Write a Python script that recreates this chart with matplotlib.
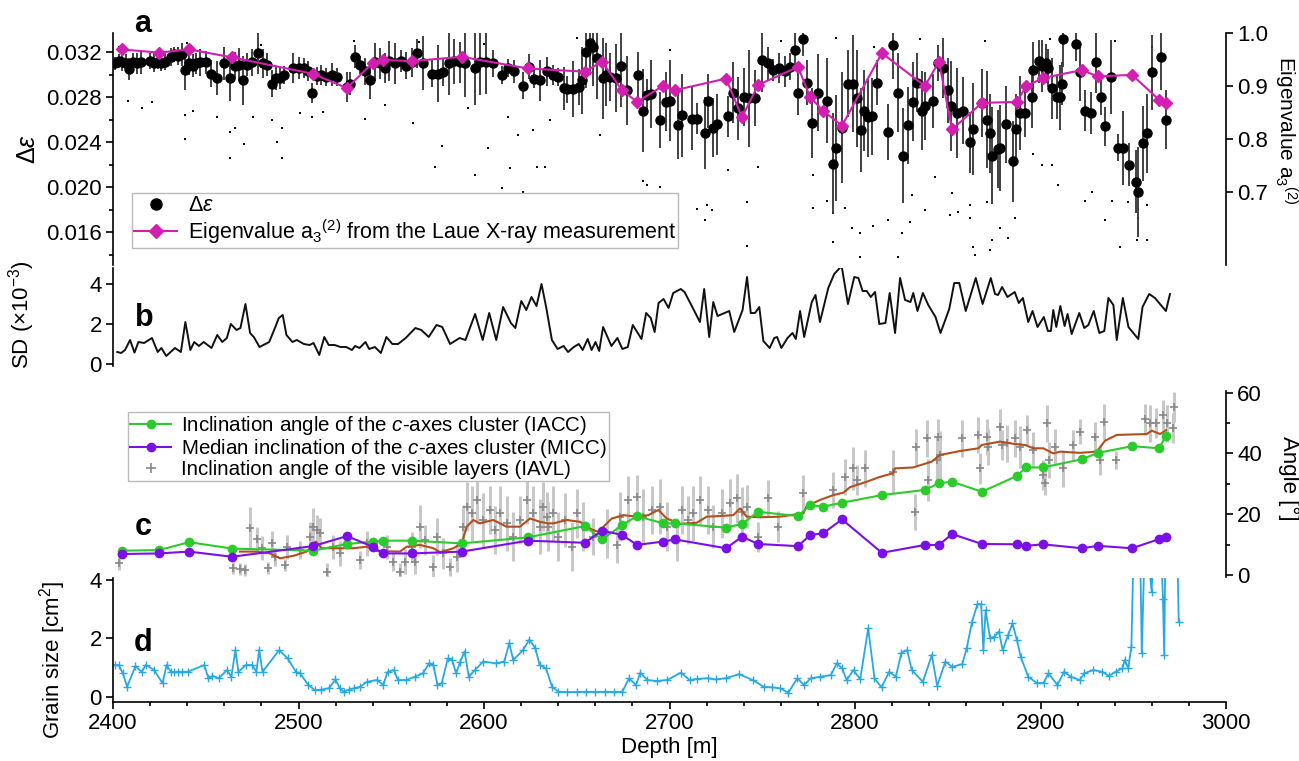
import numpy as np
import matplotlib.pyplot as plt
from matplotlib.ticker import MultipleLocator, FixedLocator, FormatStrFormatter
from matplotlib.lines import Line2D

plt.rcParams['font.family'] = ['Liberation Sans', 'DejaVu Sans']
plt.rcParams['mathtext.fontset'] = 'custom'
plt.rcParams['mathtext.rm'] = 'Liberation Sans'
plt.rcParams['mathtext.it'] = 'Liberation Sans:italic'
plt.rcParams['mathtext.bf'] = 'Liberation Sans:bold'
plt.rcParams['font.size'] = 16
plt.rcParams['axes.linewidth'] = 1.2

# ---- panel a: delta epsilon (mean per bag, with SD bars)
de_depth = [2401, 2403, 2405, 2407, 2408.5, 2411, 2413, 2415, 2420, 2422, 2424, 2426, 2428, 2431, 2433,
            2435, 2437, 2439, 2441, 2443, 2445, 2447, 2450, 2453, 2456, 2460, 2463, 2466, 2468, 2470,
            2472, 2475, 2478, 2481, 2483, 2485.7, 2488, 2490, 2492, 2497, 2500, 2503, 2505, 2507.3, 2510,
            2512, 2515, 2518, 2521, 2526, 2528, 2530.4, 2533, 2536, 2538.5, 2541, 2544, 2546.6, 2549, 2552,
            2555, 2558, 2561, 2564, 2567, 2572, 2575, 2578, 2581, 2584, 2587, 2590, 2595, 2598, 2601,
            2605, 2609.7, 2613, 2616, 2621, 2624, 2627, 2630, 2634, 2637, 2640, 2643, 2645, 2648, 2651,
            2653, 2655, 2657, 2659, 2661, 2664, 2666, 2668, 2671, 2674, 2677, 2683, 2685.7, 2688, 2690,
            2695, 2698, 2700, 2704.5, 2707, 2712, 2715, 2719, 2720.7, 2723.4, 2725.6, 2731.5, 2734, 2737, 2740,
            2743, 2746, 2749.8, 2753, 2756, 2759, 2762, 2765, 2767.6, 2769.2, 2771.9, 2774, 2777, 2780, 2785,
            2788, 2790, 2793, 2796, 2799, 2801, 2803, 2805, 2807, 2809, 2812, 2818, 2820.4, 2823, 2826,
            2828.5, 2831, 2833.4, 2836, 2838, 2842, 2844.7, 2847.4, 2850, 2852, 2855, 2858, 2862, 2863.5, 2868.4,
            2871, 2873, 2874, 2877, 2878, 2881.3, 2885, 2886.7, 2889, 2891.6, 2895.3, 2896, 2899, 2901, 2903,
            2904, 2906, 2909, 2910.4, 2911.5, 2912.1, 2919.1, 2921.2, 2923.9, 2927.2, 2929.9, 2932.5, 2934.7, 2937.9, 2941.7,
            2944.4, 2947.6, 2951.4, 2952.5, 2955.2, 2957.3, 2960, 2964.9, 2967.6]
de_val = [0.0310, 0.0312, 0.0311, 0.0310, 0.0305, 0.0311, 0.0310, 0.0311, 0.0312, 0.0310, 0.0311, 0.0310, 0.0311, 0.0316, 0.0318,
          0.0317, 0.0318, 0.0304, 0.0310, 0.0308, 0.0310, 0.0311, 0.0311, 0.0301, 0.0297, 0.0310, 0.0297, 0.0308, 0.0309, 0.0295,
          0.0309, 0.0311, 0.0319, 0.0310, 0.0309, 0.0292, 0.0297, 0.0297, 0.0300, 0.0306, 0.0306, 0.0306, 0.0303, 0.0284, 0.0299,
          0.0300, 0.0298, 0.0300, 0.0298, 0.0289, 0.0292, 0.0316, 0.0309, 0.0303, 0.0295, 0.0311, 0.0310, 0.0306, 0.0312, 0.0310,
          0.0312, 0.0308, 0.0311, 0.0319, 0.0310, 0.0301, 0.0301, 0.0302, 0.0310, 0.0312, 0.0311, 0.0310, 0.0306, 0.0311, 0.0311,
          0.0310, 0.0300, 0.0306, 0.0303, 0.0290, 0.0307, 0.0296, 0.0295, 0.0303, 0.0300, 0.0298, 0.0288, 0.0287, 0.0287, 0.0289,
          0.0295, 0.0320, 0.0328, 0.0325, 0.0315, 0.0297, 0.0300, 0.0298, 0.0297, 0.0308, 0.0286, 0.0300, 0.0268, 0.0282, 0.0283,
          0.0260, 0.0276, 0.0277, 0.0255, 0.0264, 0.0261, 0.0261, 0.0248, 0.0277, 0.0253, 0.0256, 0.0263, 0.0284, 0.0270, 0.0280,
          0.0279, 0.0279, 0.0313, 0.0310, 0.0304, 0.0306, 0.0303, 0.0307, 0.0322, 0.0284, 0.0332, 0.0293, 0.0257, 0.0284, 0.0277,
          0.0221, 0.0235, 0.0253, 0.0292, 0.0292, 0.0279, 0.0251, 0.0268, 0.0262, 0.0263, 0.0293, 0.0249, 0.0326, 0.0284, 0.0228,
          0.0255, 0.0276, 0.0293, 0.0268, 0.0272, 0.0277, 0.0310, 0.0306, 0.0286, 0.0272, 0.0266, 0.0268, 0.0240, 0.0252, 0.0275,
          0.0260, 0.0248, 0.0228, 0.0234, 0.0235, 0.0256, 0.0223, 0.0252, 0.0266, 0.0266, 0.0280, 0.0304, 0.0312, 0.0308, 0.0310,
          0.0306, 0.0288, 0.0280, 0.0280, 0.0292, 0.0332, 0.0327, 0.0302, 0.0268, 0.0266, 0.0311, 0.0280, 0.0254, 0.0298, 0.0235,
          0.0235, 0.0220, 0.0205, 0.0196, 0.0239, 0.0248, 0.0302, 0.0316, 0.0260]
de_err = [0.6, 0.6, 0.8, 0.8, 1.0, 0.8, 0.9, 1.0, 0.7, 0.8, 0.6, 0.7, 0.7, 0.8, 0.7,
          0.8, 1.0, 1.8, 1.0, 1.0, 0.9, 1.2, 1.0, 1.2, 1.5, 1.5, 2.0, 1.2, 1.5, 2.2,
          1.0, 1.2, 1.8, 1.3, 1.0, 1.2, 1.1, 1.0, 0.8, 1.3, 1.0, 0.9, 0.9, 0.9, 0.8,
          0.9, 0.8, 1.0, 0.8, 1.3, 1.0, 1.0, 0.8, 1.2, 1.7, 1.7, 1.4, 1.3, 1.8, 1.8,
          1.0, 1.2, 1.3, 1.3, 2.4, 1.2, 2.5, 1.2, 2.8, 2.0, 1.8, 3.0, 3.3, 2.9, 2.8,
          1.2, 0.8, 0.8, 1.0, 1.2, 1.1, 0.8, 1.8, 1.3, 0.9, 0.8, 1.9, 1.2, 2.5, 1.6,
          3.0, 3.2, 2.8, 3.5, 3.7, 3.6, 2.8, 2.1, 3.0, 3.7, 3.1, 2.0, 3.7, 1.4, 3.0,
          2.5, 2.6, 3.6, 3.0, 3.7, 2.8, 1.4, 3.2, 2.4, 2.6, 2.7, 1.8, 2.7, 2.8, 2.6,
          4.3, 2.5, 2.8, 1.5, 1.0, 1.3, 1.4, 1.2, 1.5, 2.0, 1.5, 2.0, 3.1, 3.4, 3.8,
          4.5, 4.7, 4.9, 3.0, 4.3, 4.3, 3.7, 3.6, 3.5, 3.4, 2.0, 2.5, 3.0, 3.5, 4.2,
          3.4, 3.5, 2.6, 3.5, 3.0, 2.4, 1.6, 2.7, 2.9, 4.0, 4.0, 3.0, 2.7, 4.1, 3.0,
          4.3, 3.5, 4.3, 3.5, 3.8, 3.4, 3.6, 3.1, 3.3, 2.1, 2.7, 2.5, 1.9, 2.3, 1.7,
          1.7, 2.7, 1.9, 2.9, 1.9, 2.5, 1.5, 2.5, 1.8, 1.9, 2.7, 1.6, 1.7, 3.3, 1.2,
          3.3, 1.9, 2.8, 4.0, 3.3, 3.5, 3.3, 3.0, 2.6]

# single measurements lying outside the bars
pt_depth = [2408, 2415.6, 2421, 2438.8, 2438.8, 2443, 2456, 2463, 2463, 2466, 2470.6, 2475.5, 2485.7, 2488.4,
            2491, 2491, 2500.8, 2507.3, 2513, 2535.8, 2546.6, 2561.7, 2573.6, 2577.3, 2591.3, 2595.1, 2602.1,
            2609.7, 2613, 2614, 2618.4, 2621, 2626.4, 2628.6, 2633, 2635.7, 2662.5, 2685.7, 2688, 2695, 2715,
            2719, 2720, 2723, 2731.5, 2741.7, 2741.7, 2747.7, 2777.3, 2777.3, 2785, 2788, 2788, 2794.6, 2798.4,
            2802.6, 2802.6, 2809.7, 2817.7, 2823, 2825.3, 2829.6, 2830.7, 2837.7, 2843, 2851.2, 2852.2, 2855.5,
            2862, 2862, 2863.5, 2864.6, 2871, 2872.7, 2873.8, 2878, 2882.4, 2886, 2895.9, 2900.8, 2906, 2909.4,
            2924, 2927.7, 2934.7, 2938.5, 2943, 2947, 2952, 2952.5, 2957.3, 2957.3,
            2403, 2440, 2480, 2530, 2565, 2600, 2650, 2700, 2760, 2790, 2810, 2835, 2870, 2905, 2940, 2960]
pt_val = [0.0277, 0.0270, 0.0276, 0.0264, 0.0243, 0.0268, 0.0262, 0.0249, 0.0226, 0.0253, 0.0238, 0.0262, 0.0260, 0.0240,
          0.0226, 0.0253, 0.0266, 0.0262, 0.0267, 0.0261, 0.0273, 0.0257, 0.0218, 0.0237, 0.0270, 0.0211, 0.0235,
          0.0199, 0.0262, 0.0217, 0.0246, 0.0196, 0.0251, 0.0218, 0.0218, 0.0260, 0.0246, 0.0206, 0.0202, 0.0200, 0.0181,
          0.0171, 0.0184, 0.0180, 0.0215, 0.0187, 0.0148, 0.0218, 0.0211, 0.0182, 0.0188, 0.0177, 0.0151, 0.0182, 0.0164,
          0.0159, 0.0138, 0.0166, 0.0171, 0.0138, 0.0159, 0.0169, 0.0193, 0.0180, 0.0209, 0.0175, 0.0195, 0.0178,
          0.0184, 0.0173, 0.0147, 0.0140, 0.0187, 0.0144, 0.0153, 0.0164, 0.0155, 0.0173, 0.0230, 0.0220, 0.0220, 0.0202,
          0.0188, 0.0196, 0.0171, 0.0188, 0.0147, 0.0187, 0.0153, 0.0173, 0.0184, 0.0153,
          0.0325, 0.0328, 0.0326, 0.0330, 0.0329, 0.0327, 0.0333, 0.0322, 0.0330, 0.0333, 0.0325, 0.0332, 0.0330, 0.0332, 0.0330, 0.0325]

# Laue X-ray depths: eigenvalue, IACC, MICC
laue_depth = [2404.7, 2424.8, 2441.0, 2464.2, 2507.8, 2526.1, 2540.1, 2545.5, 2561.2, 2588.1, 2623.7, 2654.4, 2663.6,
              2674.4, 2682.5, 2696.5, 2703.0, 2730.5, 2739.1, 2747.8, 2769.3, 2775.8, 2782.8, 2793.0, 2814.5, 2837.7,
              2845.3, 2852.3, 2868.4, 2887.3, 2892.1, 2901.3, 2922.3, 2931.0, 2949.3, 2963.9, 2967.6]
eigen = [0.969, 0.963, 0.969, 0.954, 0.923, 0.896, 0.944, 0.949, 0.947, 0.955, 0.933, 0.927, 0.946,
         0.892, 0.870, 0.900, 0.892, 0.914, 0.841, 0.902, 0.936, 0.879, 0.853, 0.825, 0.962, 0.900,
         0.946, 0.818, 0.868, 0.870, 0.899, 0.915, 0.930, 0.918, 0.921, 0.874, 0.868]
iacc = [8.0, 8.2, 10.8, 8.7, 8.0, 10.2, 11.0, 11.3, 11.3, 10.4, 12.4, 16.1, 11.7,
        16.4, 19.4, 17.0, 17.0, 15.6, 16.8, 20.8, 19.4, 23.0, 22.5, 23.8, 26.3, 28.0,
        30.2, 30.7, 27.4, 32.6, 35.4, 35.4, 38.1, 40.2, 42.4, 41.7, 45.7]
micc = [6.9, 7.1, 7.7, 6.0, 9.5, 12.8, 9.3, 7.1, 7.1, 7.7, 11.3, 10.6, 14.6,
        13.2, 9.9, 11.0, 11.7, 8.8, 12.6, 10.2, 9.5, 13.2, 13.7, 18.3, 7.3, 9.9,
        9.9, 13.5, 10.2, 10.1, 9.6, 10.1, 8.8, 9.6, 8.8, 11.8, 12.6]

# ---- panel b: SD (x10^-3)
sd_depth = [2402.3, 2404.4, 2406.5, 2409.2, 2411.6, 2413.7, 2416.8, 2421.0, 2424.1, 2426.1, 2428.7, 2433.4, 2436.6,
            2439.0, 2441.7, 2443.8, 2446.3, 2448.9, 2453.1, 2456.2, 2458.9, 2461.4, 2463.5, 2466.6, 2468.7, 2471.4,
            2473.9, 2475.9, 2479.0, 2484.2, 2487.3, 2489.4, 2491.5, 2493.5, 2496.7, 2499.1, 2502.9, 2506.0, 2508.1,
            2511.2, 2513.9, 2516.3, 2519.5, 2522.6, 2525.7, 2528.8, 2530.5, 2532.9, 2536.1, 2538.1, 2541.2, 2544.4,
            2547.4, 2550.6, 2553.7, 2557.8, 2563.0, 2566.2, 2570.2, 2574.4, 2577.5, 2581.7, 2586.9, 2590.0, 2595.2,
            2599.3, 2602.8, 2606.6, 2610.3, 2614.5, 2616.9, 2620.1, 2622.8, 2625.6, 2628.3, 2631.0, 2633.5, 2636.6,
            2639.7, 2642.9, 2645.3, 2648.4, 2651.1, 2653.2, 2655.9, 2658.0, 2660.1, 2662.1, 2664.2, 2668.7, 2671.9,
            2674.6, 2677.5, 2680.2, 2684.9, 2687.4, 2689.9, 2692.0, 2694.1, 2696.8, 2699.5, 2702.0, 2706.1, 2708.1,
            2712.3, 2716.4, 2718.7, 2721.4, 2723.6, 2725.9, 2732.2, 2734.9, 2739.4, 2741.8, 2743.8, 2746.1, 2748.4,
            2750.6, 2754.0, 2756.5, 2758.0, 2760.3, 2763.6, 2766.3, 2768.1, 2770.4, 2772.6, 2776.7, 2778.7, 2781.1,
            2785.6, 2788.8, 2792.8, 2796.2, 2799.6, 2801.8, 2804.1, 2806.3, 2808.5, 2810.8, 2813.1, 2816.4, 2818.7,
            2821.6, 2824.3, 2827.0, 2829.9, 2831.4, 2833.7, 2836.6, 2839.5, 2843.4, 2846.1, 2850.8, 2853.5, 2856.2,
            2859.7, 2865.1, 2868.8, 2873.2, 2875.5, 2877.1, 2879.3, 2882.2, 2886.1, 2888.3, 2890.5, 2893.4, 2895.7,
            2898.4, 2901.8, 2904.0, 2905.6, 2906.9, 2908.5, 2910.7, 2913.0, 2914.6, 2916.8, 2920.9, 2923.6, 2925.8,
            2928.7, 2931.7, 2934.4, 2936.6, 2939.3, 2941.1, 2944.4, 2947.4, 2952.7, 2955.0, 2958.6, 2961.7, 2967.6,
            2969.8]
sd_val = [0.6, 0.55, 0.7, 1.2, 0.57, 1.1, 1.05, 1.3, 0.6, 0.8, 0.4, 0.8, 0.6,
          2.1, 0.7, 1.1, 0.9, 1.1, 0.8, 1.45, 1.1, 1.3, 2.0, 1.7, 1.8, 3.0,
          1.55, 1.35, 0.85, 1.1, 1.8, 2.3, 2.45, 1.45, 1.1, 1.2, 1.0, 0.95, 1.05,
          0.45, 1.35, 0.95, 0.95, 0.85, 0.85, 0.7, 0.9, 0.8, 1.1, 0.75, 0.85, 0.55,
          1.35, 1.0, 1.0, 1.3, 1.8, 1.7, 1.35, 1.95, 1.85, 1.0, 1.3, 1.2, 2.5,
          1.2, 2.55, 1.2, 2.85, 2.05, 1.8, 3.15, 2.7, 3.35, 2.9, 4.0, 2.85, 1.2,
          0.75, 0.9, 0.6, 0.85, 1.0, 0.7, 1.25, 0.7, 1.1, 0.65, 1.85, 0.9, 1.3,
          0.75, 0.85, 1.95, 1.25, 2.55, 2.3, 1.6, 3.05, 3.25, 2.8, 3.55, 3.75, 3.6,
          2.85, 2.1, 3.75, 1.35, 3.1, 2.4, 2.65, 1.6, 2.7, 4.35, 2.55, 2.55, 2.85,
          1.15, 0.8, 1.3, 1.35, 0.8, 1.3, 1.55, 1.25, 2.65, 1.35, 3.1, 3.45, 2.1,
          3.8, 4.5, 4.9, 3.0, 4.35, 4.3, 3.65, 3.65, 3.35, 3.6, 2.0, 2.05, 3.55,
          1.55, 4.3, 3.2, 3.1, 3.55, 2.65, 3.55, 2.95, 2.35, 1.55, 2.75, 4.05, 4.05,
          2.65, 4.3, 3.0, 4.3, 3.5, 3.45, 3.85, 3.35, 3.6, 3.05, 3.3, 2.1, 2.65,
          1.85, 2.35, 1.65, 1.65, 2.7, 1.85, 2.9, 1.9, 2.5, 1.5, 2.55, 1.8, 1.95,
          2.65, 1.55, 1.65, 3.3, 2.95, 1.2, 3.3, 1.85, 1.25, 2.85, 3.5, 3.3, 2.65,
          3.5]

# ---- panel c: inclination of visible layers (IAVL) and running mean
iavl_depth = [2403.4, 2464.9, 2468.5, 2471.2, 2473.9, 2477.5, 2480.2, 2483.7, 2485.5, 2487.3, 2492.7, 2493.6, 2500.8,
              2506.2, 2508.0, 2509.8, 2511.6, 2515.2, 2518.8, 2522.4, 2533.2, 2536.8, 2547.5, 2551.1, 2554.7, 2557.4,
              2561.0, 2562.8, 2565.5, 2568.2, 2572.7, 2574.5, 2578.1, 2581.7, 2585.3, 2588.8, 2590.7, 2593.4, 2596.1,
              2599.6, 2603.2, 2605.9, 2608.6, 2612.2, 2615.8, 2619.4, 2623.0, 2626.6, 2630.2, 2632.0, 2633.8, 2634.7,
              2637.4, 2640.1, 2643.7, 2647.3, 2650.0, 2653.6, 2659.0, 2666.2, 2671.6, 2673.3, 2677.8, 2682.3, 2685.9,
              2690.4, 2694.9, 2698.5, 2703.9, 2706.6, 2710.2, 2712.9, 2716.5, 2720.9, 2723.6, 2728.2, 2732.6, 2736.2,
              2738.9, 2741.6, 2747.9, 2753.3, 2758.7, 2772.1, 2788.2, 2794.6, 2799.1, 2800.9, 2805.4, 2820.6, 2832.3,
              2833.0, 2838.7, 2839.5, 2844.0, 2845.0, 2845.8, 2857.5, 2866.5, 2867.4, 2871.0, 2871.9, 2878.2, 2879.0,
              2881.8, 2886.3, 2889.0, 2892.6, 2896.2, 2901.5, 2902.4, 2903.3, 2904.7, 2907.8, 2912.3, 2917.7, 2921.3,
              2929.4, 2932.1, 2934.3, 2940.7, 2956.3, 2959.0, 2962.3, 2966.2, 2968.0, 2971.3, 2972.0]
iavl = [3.8, 2.2, 1.9, 1.6, 15.4, 11.7, 8.8, 2.2, 10.4, 6.0, 3.3, 9.3, 8.2,
        12.6, 15.9, 14.8, 13.7, 1.0, 9.3, 7.1, 4.9, 10.4, 9.3, 4.4, 1.1, 4.4,
        9.3, 4.4, 15.9, 11.5, 2.7, 12.6, 7.1, 2.7, 6.0, 15.9, 22.5, 20.3, 24.7,
        18.1, 21.4, 14.8, 20.3, 17.0, 12.6, 18.1, 24.7, 20.3, 15.9, 22.5, 19.2, 15.9,
        20.3, 12.6, 18.1, 9.3, 20.3, 15.9, 12.6, 13.7, 9.9, 19.2, 24.7, 25.8, 19.2,
        21.4, 22.5, 15.9, 11.5, 21.4, 18.1, 20.3, 24.7, 21.4, 15.9, 20.3, 23.6, 25.2,
        20.8, 22.5, 12.6, 25.2, 15.9, 26.9, 28.0, 32.3, 35.1, 31.3, 35.1, 34.0, 20.8,
        42.2, 45.0, 31.3, 37.8, 45.5, 39.5, 45.0, 46.1, 35.1, 45.5, 42.2, 48.8, 42.8,
        43.3, 45.0, 42.2, 47.7, 41.1, 32.9, 30.2, 49.9, 37.8, 42.2, 35.1, 42.8, 47.2,
        45.5, 37.8, 50.4, 37.8, 51.2, 49.9, 50.1, 52.6, 49.9, 48.3, 55.2]
iavl_err = [2, 2, 2, 2, 7, 4, 4, 2, 4, 3, 2, 4, 3,
            5, 6, 5, 5, 3, 4, 4, 3, 4, 4, 3, 3, 4,
            5, 4, 7, 5, 4, 6, 5, 3, 5, 7, 8, 9, 8,
            9, 8, 8, 9, 9, 8, 8, 8, 9, 9, 8, 8, 8,
            9, 8, 9, 8, 8, 8, 6, 8, 6, 8, 8, 7, 9,
            8, 9, 8, 7, 8, 8, 9, 8, 8, 7, 8, 8, 8,
            8, 7, 5, 6, 5, 6, 6, 6, 7, 5, 6, 7, 6,
            6, 6, 7, 8, 6, 8, 6, 6, 5, 6, 6, 6, 5,
            6, 6, 7, 5, 6, 5, 4, 6, 6, 6, 6, 5, 4,
            5, 5, 6, 3, 5, 6, 5, 5, 6, 5, 5]

mean_depth = [2468.5, 2477.5, 2484.6, 2490.0, 2497.2, 2504.4, 2509.4, 2512.5, 2518.8, 2529.5, 2536.8, 2542.2, 2554.7,
              2558.3, 2565.5, 2572.7, 2576.3, 2583.5, 2588.0, 2590.7, 2594.2, 2597.8, 2605.0, 2612.2, 2619.4, 2624.8,
              2630.2, 2634.7, 2637.4, 2644.6, 2651.8, 2658.1, 2661.6, 2668.9, 2675.1, 2682.3, 2688.6, 2694.0, 2698.5,
              2705.7, 2714.7, 2720.1, 2727.2, 2734.4, 2738.0, 2741.6, 2748.8, 2759.6, 2772.2, 2774.0, 2781.2, 2788.3,
              2793.7, 2797.3, 2806.3, 2813.5, 2820.6, 2821.6, 2831.4, 2841.3, 2845.8, 2856.6, 2866.5, 2868.3, 2878.2,
              2886.3, 2891.7, 2896.1, 2901.5, 2906.9, 2910.5, 2921.3, 2930.3, 2934.8, 2941.1, 2957.3, 2960.0, 2964.5,
              2967.7]
mean_angle = [7.7, 7.7, 7.1, 5.5, 6.3, 7.7, 11.0, 8.8, 8.8, 8.8, 9.3, 7.9, 7.7,
              9.3, 9.9, 8.8, 7.5, 8.8, 10.4, 15.9, 18.1, 17.0, 18.1, 15.9, 15.9, 18.6,
              17.5, 17.0, 17.0, 18.1, 17.5, 15.0, 14.2, 18.6, 19.7, 19.2, 19.7, 21.4, 18.6,
              16.8, 17.2, 19.2, 19.4, 19.7, 21.9, 19.2, 19.0, 19.2, 20.3, 22.7, 24.7, 26.3,
              27.1, 28.9, 30.7, 32.3, 33.5, 35.1, 35.4, 37.3, 39.5, 40.8, 41.7, 42.8, 43.9,
              43.1, 42.8, 41.7, 41.7, 40.0, 40.6, 40.2, 40.6, 44.2, 46.1, 46.4, 47.5, 46.4,
              47.7]

# ---- panel d: grain size
gs_depth = [2400.9, 2403.1, 2405.3, 2407.6, 2412.1, 2415.5, 2417.7, 2422.2, 2426.7, 2428.9, 2431.2, 2433, 2435,
            2437, 2440.2, 2449.2, 2451.4, 2453.6, 2457.0, 2461.5, 2463.8, 2466.0, 2467.6, 2471.6, 2475.0, 2477.3,
            2478.8, 2480.6, 2489.6, 2494.1, 2498.6, 2500.8, 2505.3, 2508.7, 2512, 2516.5, 2519.9, 2522.2, 2524.4,
            2527, 2530.0, 2533.4, 2536.8, 2542.4, 2545.7, 2548.0, 2551.4, 2553.6, 2558.1, 2562.6, 2567.1, 2570.4,
            2572.7, 2574.9, 2577.2, 2580.5, 2582.8, 2585.0, 2587.2, 2589.5, 2591.8, 2595.1, 2599.6, 2606.3, 2610.9,
            2613.6, 2615.8, 2621.0, 2624.4, 2627.7, 2630.0, 2633.4, 2636.7, 2640.1, 2645, 2650, 2655, 2660,
            2665, 2670, 2674.6, 2678.2, 2681.9, 2684.3, 2688.0, 2693, 2698.8, 2706.1, 2710.9, 2715, 2720.6,
            2725, 2730.3, 2737.5, 2744.8, 2750.8, 2755, 2759.3, 2764.1, 2768.9, 2772.5, 2776.2, 2781.0, 2787.0,
            2790.2, 2793.1, 2795.5, 2799.2, 2802.8, 2807.1, 2810.5, 2814.3, 2818.4, 2822.0, 2825.0, 2828.1, 2830.6,
            2836.6, 2841.4, 2844.3, 2848.7, 2852.3, 2857.8, 2860.2, 2863.1, 2866.0, 2868.0, 2869.2, 2870.4, 2872.8,
            2875.2, 2877.6, 2879.6, 2882.5, 2884.9, 2887.3, 2889.3, 2893.4, 2898.2, 2901.8, 2904.3, 2909.1, 2912.7,
            2916.4, 2921.2, 2923.6, 2928.5, 2933.3, 2936.9, 2940.5, 2944.2, 2945.4, 2947.3, 2949.0, 2950.5, 2953.5,
            2954.6, 2956.5, 2959.9, 2961.5, 2964.5, 2966.0, 2966.7, 2967.5, 2973.5, 2974.5]
gs = [1.09, 1.09, 0.81, 0.35, 1.05, 0.86, 1.09, 0.92, 0.47, 1.09, 0.86, 0.86, 0.86,
      0.86, 0.86, 1.09, 0.64, 0.72, 0.64, 0.92, 0.69, 1.60, 0.86, 1.09, 1.09, 0.86,
      1.60, 0.86, 1.60, 1.32, 0.86, 0.81, 0.41, 0.24, 0.25, 0.30, 0.60, 0.30, 0.18,
      0.25, 0.30, 0.35, 0.52, 0.58, 0.41, 0.86, 0.92, 0.58, 0.58, 0.69, 0.81, 1.15,
      1.09, 0.41, 0.47, 1.32, 1.26, 0.81, 1.21, 1.55, 0.69, 0.92, 1.21, 1.15, 1.21,
      1.83, 1.26, 1.60, 1.96, 1.66, 1.09, 0.98, 0.35, 0.18, 0.17, 0.17, 0.18, 0.17,
      0.18, 0.17, 0.18, 0.64, 0.41, 0.83, 0.58, 0.55, 0.58, 0.83, 0.58, 0.62, 0.64,
      0.60, 0.64, 0.78, 0.58, 0.35, 0.33, 0.30, 0.15, 0.64, 0.41, 0.64, 0.69, 0.75,
      1.15, 0.98, 0.58, 0.92, 0.60, 2.34, 0.64, 0.33, 0.86, 0.69, 1.51, 1.60, 0.92,
      0.52, 1.43, 0.38, 1.21, 1.03, 1.12, 1.66, 2.57, 3.17, 3.17, 1.60, 2.97, 2.00,
      2.06, 2.23, 1.60, 2.11, 2.51, 1.94, 1.38, 0.69, 0.47, 0.49, 0.81, 0.41, 0.86,
      0.69, 0.58, 0.81, 0.92, 0.86, 0.72, 0.86, 0.98, 1.26, 0.98, 1.72, 6.0, 6.0,
      1.49, 6.0, 3.58, 6.0, 6.0, 3.35, 1.43, 6.0, 6.0, 2.57]

MAG = '#d21fb0'
GREEN = '#2ccb2c'
PURPLE = '#7a10e6'
BROWN = '#b34e1e'
BLUE = '#2aa8e2'

W, H = 1299, 761
fig = plt.figure(figsize=(W / 100, H / 100), dpi=100)


def rect(top, bottom, left=113, right=1226):
    return [left / W, 1 - bottom / H, (right - left) / W, (bottom - top) / H]


def style(ax, keep):
    for s in ['left', 'right', 'top', 'bottom']:
        ax.spines[s].set_visible(s in keep)
    ax.tick_params(which='major', length=5, width=1.2, labelsize=16, pad=3)
    ax.tick_params(which='minor', length=3, width=1.2)
    ax.set_xlim(2400, 3000)
    ax.patch.set_alpha(0)


# panel a
ax_a = fig.add_axes(rect(33, 265))
style(ax_a, ['left'])
ax_a.set_ylim(0.0131, 0.0337)
ax_a.plot(pt_depth, pt_val, 's', color='k', ms=1.8, mew=0)
ax_a.errorbar(de_depth, de_val, yerr=np.array(de_err) * 1e-3, fmt='o', color='k', ms=6.5,
              ecolor='#333333', elinewidth=1.3, capsize=0)
ax_a.yaxis.set_major_locator(MultipleLocator(0.004))
ax_a.yaxis.set_minor_locator(MultipleLocator(0.002))
ax_a.yaxis.set_major_formatter(FormatStrFormatter('%.3f'))
ax_a.tick_params(axis='x', which='both', bottom=False, labelbottom=False)
ax_a.set_ylabel(r'$\Delta\varepsilon$', fontsize=18)
ax_a.yaxis.set_label_coords(-0.066, 0.5)

ax_a2 = ax_a.twinx()
style(ax_a2, ['right'])
ax_a2.set_ylim(0.562, 1.0)
ax_a2.plot(laue_depth, eigen, '-D', color=MAG, ms=6, lw=1.5)
ax_a2.yaxis.set_major_locator(FixedLocator([0.7, 0.8, 0.9, 1.0]))
ax_a2.yaxis.set_major_formatter(FormatStrFormatter('%.1f'))
ax_a2.tick_params(axis='x', which='both', bottom=False, labelbottom=False)
ax_a2.set_ylabel(r'Eigenvalue a$_3$$^{(2)}$', rotation=270, fontsize=15)
ax_a2.yaxis.set_label_coords(1.0655, 0.58)

h_a = [Line2D([], [], marker='o', color='k', ls='none', ms=8),
       Line2D([], [], marker='D', color=MAG, ms=7, lw=1.5)]
fig.legend(h_a, [r'$\Delta\varepsilon$', r'Eigenvalue a$_3$$^{(2)}$ from the Laue X-ray measurement'],
           loc='upper left', bbox_to_anchor=(132 / W, 1 - 193 / H), fontsize=15.5, frameon=True,
           fancybox=False, edgecolor='#bbbbbb', framealpha=1, borderpad=0.1, labelspacing=0.05,
           handlelength=2.0, handletextpad=0.5, borderaxespad=0)

# panel b
ax_b = fig.add_axes(rect(268, 366))
style(ax_b, ['left'])
ax_b.set_ylim(-0.1, 4.8)
ax_b.plot(sd_depth, sd_val, color='#111111', lw=1.4)
ax_b.yaxis.set_major_locator(FixedLocator([0, 2, 4]))
ax_b.tick_params(axis='x', which='both', bottom=False, labelbottom=False)
ax_b.set_ylabel(r'SD (×10$^{-3}$)', fontsize=16)
ax_b.yaxis.set_label_coords(-0.068, 0.52)

# panel c
ax_c = fig.add_axes(rect(391, 577))
style(ax_c, ['right'])
ax_c.set_ylim(-0.66, 60.56)
ax_c.errorbar(iavl_depth, iavl, yerr=iavl_err, fmt='+', color='#888888', ms=6, mew=1.2,
              ecolor='#c8c8c8', elinewidth=2.2, capsize=0, zorder=2)
ax_c.plot(mean_depth, mean_angle, color=BROWN, lw=1.5, zorder=3)
ax_c.plot(laue_depth, iacc, '-o', color=GREEN, ms=6, lw=1.5, zorder=4)
ax_c.plot(laue_depth, micc, '-o', color=PURPLE, ms=6, lw=1.5, zorder=4)
ax_c.yaxis.tick_right()
ax_c.yaxis.set_label_position('right')
ax_c.yaxis.set_major_locator(MultipleLocator(20))
ax_c.yaxis.set_minor_locator(MultipleLocator(10))
ax_c.tick_params(axis='x', which='both', bottom=False, labelbottom=False)
ax_c.set_ylabel('Angle [°]', rotation=270, fontsize=16)
ax_c.yaxis.set_label_coords(1.0655, 0.53)

h_c = [Line2D([], [], marker='o', color=GREEN, ms=6, lw=1.5),
       Line2D([], [], marker='o', color=PURPLE, ms=6, lw=1.5),
       Line2D([], [], marker='+', color='#888888', ls='none', ms=7, mew=1.2)]
ax_c.legend(h_c, ['Inclination angle of the $c$-axes cluster (IACC)',
                  'Median inclination of the $c$-axes cluster (MICC)',
                  'Inclination angle of the visible layers (IAVL)'],
            loc='upper left', bbox_to_anchor=(128 / W, 1 - 412 / H), bbox_transform=fig.transFigure,
            fontsize=14.8, frameon=True, fancybox=False, edgecolor='#bbbbbb', framealpha=1,
            borderpad=0.1, labelspacing=0.0, handlelength=2.0, handletextpad=0.5, borderaxespad=0)

# panel d
ax_d = fig.add_axes(rect(578, 702))
style(ax_d, ['left', 'bottom'])
ax_d.set_ylim(-0.17, 4.06)
ax_d.plot(gs_depth, gs, '-+', color=BLUE, ms=6, mew=1.0, lw=1.3)
ax_d.yaxis.set_major_locator(FixedLocator([0, 2, 4]))
ax_d.xaxis.set_major_locator(MultipleLocator(100))
ax_d.xaxis.set_minor_locator(MultipleLocator(20))
ax_d.set_ylabel('Grain size [cm$^2$]', fontsize=16)
ax_d.yaxis.set_label_coords(-0.040, 0.34)
ax_d.set_xlabel('Depth [m]', fontsize=16)
ax_d.xaxis.set_label_coords(0.5, -0.28)

for letter, x, y in [('a', 143, 24), ('b', 144, 318), ('c', 143, 527), ('d', 143, 643)]:
    fig.text(x / W, 1 - y / H, letter, fontsize=22, fontweight='bold', ha='center', va='center')

fig.savefig('out.png', dpi=100)
